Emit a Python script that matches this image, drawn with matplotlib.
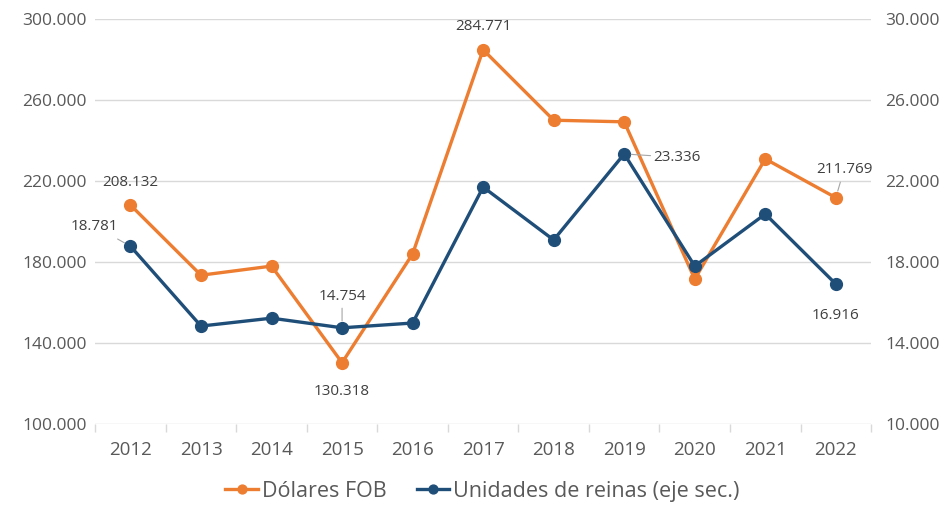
import matplotlib

matplotlib.use("Agg")
import matplotlib.pyplot as plt  # noqa: E402
from matplotlib.ticker import FuncFormatter  # noqa: E402

years = ["2012", "2013", "2014", "2015", "2016", "2017",
         "2018", "2019", "2020", "2021", "2022"]
dolares_fob = [208132, 173500, 178000, 130318, 184000, 284771,
               250000, 249200, 171600, 230900, 211769]
unidades = [18781, 14840, 15230, 14754, 14990, 21700,
            19090, 23336, 17800, 20370, 16916]

ORANGE = "#ED7D31"
BLUE = "#1F4E79"
GRID = "#D9D9D9"
TXT = "#595959"
LBL = "#404040"

plt.rcParams["font.family"] = ["Open Sans", "DejaVu Sans"]


def miles(v, _pos=None):
    return f"{v:,.0f}".replace(",", ".")


fig = plt.figure(figsize=(9.52, 5.11), dpi=100)
ax = fig.add_axes([0.1, 0.17, 0.815, 0.793])
ax2 = ax.twinx()

x = range(len(years))
ax.plot(x, dolares_fob, color=ORANGE, lw=2.4, marker="o", ms=8.5,
        label="Dólares FOB", zorder=3)
ax2.plot(x, unidades, color=BLUE, lw=2.4, marker="o", ms=8.5,
         label="Unidades de reinas (eje sec.)", zorder=3)

ax.set_xlim(-0.5, len(years) - 0.5)
ax.set_ylim(100000, 300000)
ax2.set_ylim(10000, 30000)
ax.set_yticks(range(100000, 300001, 40000))
ax2.set_yticks(range(10000, 30001, 4000))
ax.yaxis.set_major_formatter(FuncFormatter(miles))
ax2.yaxis.set_major_formatter(FuncFormatter(miles))
ax.grid(axis="y", color=GRID, lw=1)
ax.set_axisbelow(True)

for a in (ax, ax2):
    for s in a.spines.values():
        s.set_visible(False)
    a.tick_params(axis="y", length=0, labelsize=12.5, labelcolor=TXT, pad=6)
ax2.tick_params(axis="y", pad=10)

ax.set_xticks(list(x))
ax.set_xticklabels(years)
ax.tick_params(axis="x", length=0, labelsize=13.5, labelcolor=TXT, pad=12)
ax.set_xticks([i - 0.5 for i in range(len(years) + 1)], minor=True)
ax.tick_params(axis="x", which="minor", length=6, color=GRID, width=1)

# data labels
lbl = dict(fontsize=11, color=LBL, ha="center")
lead = dict(arrowstyle="-", color="#A6A6A6", lw=0.8)
ax.annotate(miles(dolares_fob[0]), (0, dolares_fob[0]), xytext=(0, 14),
            textcoords="offset points", **lbl)
ax.annotate(miles(dolares_fob[3]), (3, dolares_fob[3]), xytext=(0, -23),
            textcoords="offset points", **lbl)
ax.annotate(miles(dolares_fob[5]), (5, dolares_fob[5]), xytext=(0, 14),
            textcoords="offset points", **lbl)
ax.annotate(miles(dolares_fob[10]), (10, dolares_fob[10]), xytext=(6, 18),
            textcoords="offset points",
            arrowprops=dict(lead, shrinkA=2, shrinkB=5), **lbl)
ax2.annotate(miles(unidades[0]), (0, unidades[0]), xytext=(-26, 12),
             textcoords="offset points",
             arrowprops=dict(lead, shrinkA=4, shrinkB=5), **lbl)
ax2.annotate(miles(unidades[3]), (3, unidades[3]), xytext=(0, 20),
             textcoords="offset points",
             arrowprops=dict(lead, shrinkA=1, shrinkB=5), **lbl)
ax2.annotate(miles(unidades[7]), (7, unidades[7]), xytext=(38, -5),
             textcoords="offset points",
             arrowprops=dict(lead, shrinkA=22, shrinkB=5), **lbl)
ax2.annotate(miles(unidades[10]), (10, unidades[10]), xytext=(0, -25),
             textcoords="offset points", **lbl)

h1, l1 = ax.get_legend_handles_labels()
h2, l2 = ax2.get_legend_handles_labels()
leg = fig.legend(h1 + h2, l1 + l2, loc="lower center", ncol=2, frameon=False,
                 fontsize=15.5, labelcolor=TXT, bbox_to_anchor=(0.507, -0.02),
                 handlelength=1.5, handletextpad=0.2, columnspacing=1.4,
                 markerscale=0.75)

fig.savefig("out.png", dpi=100)
